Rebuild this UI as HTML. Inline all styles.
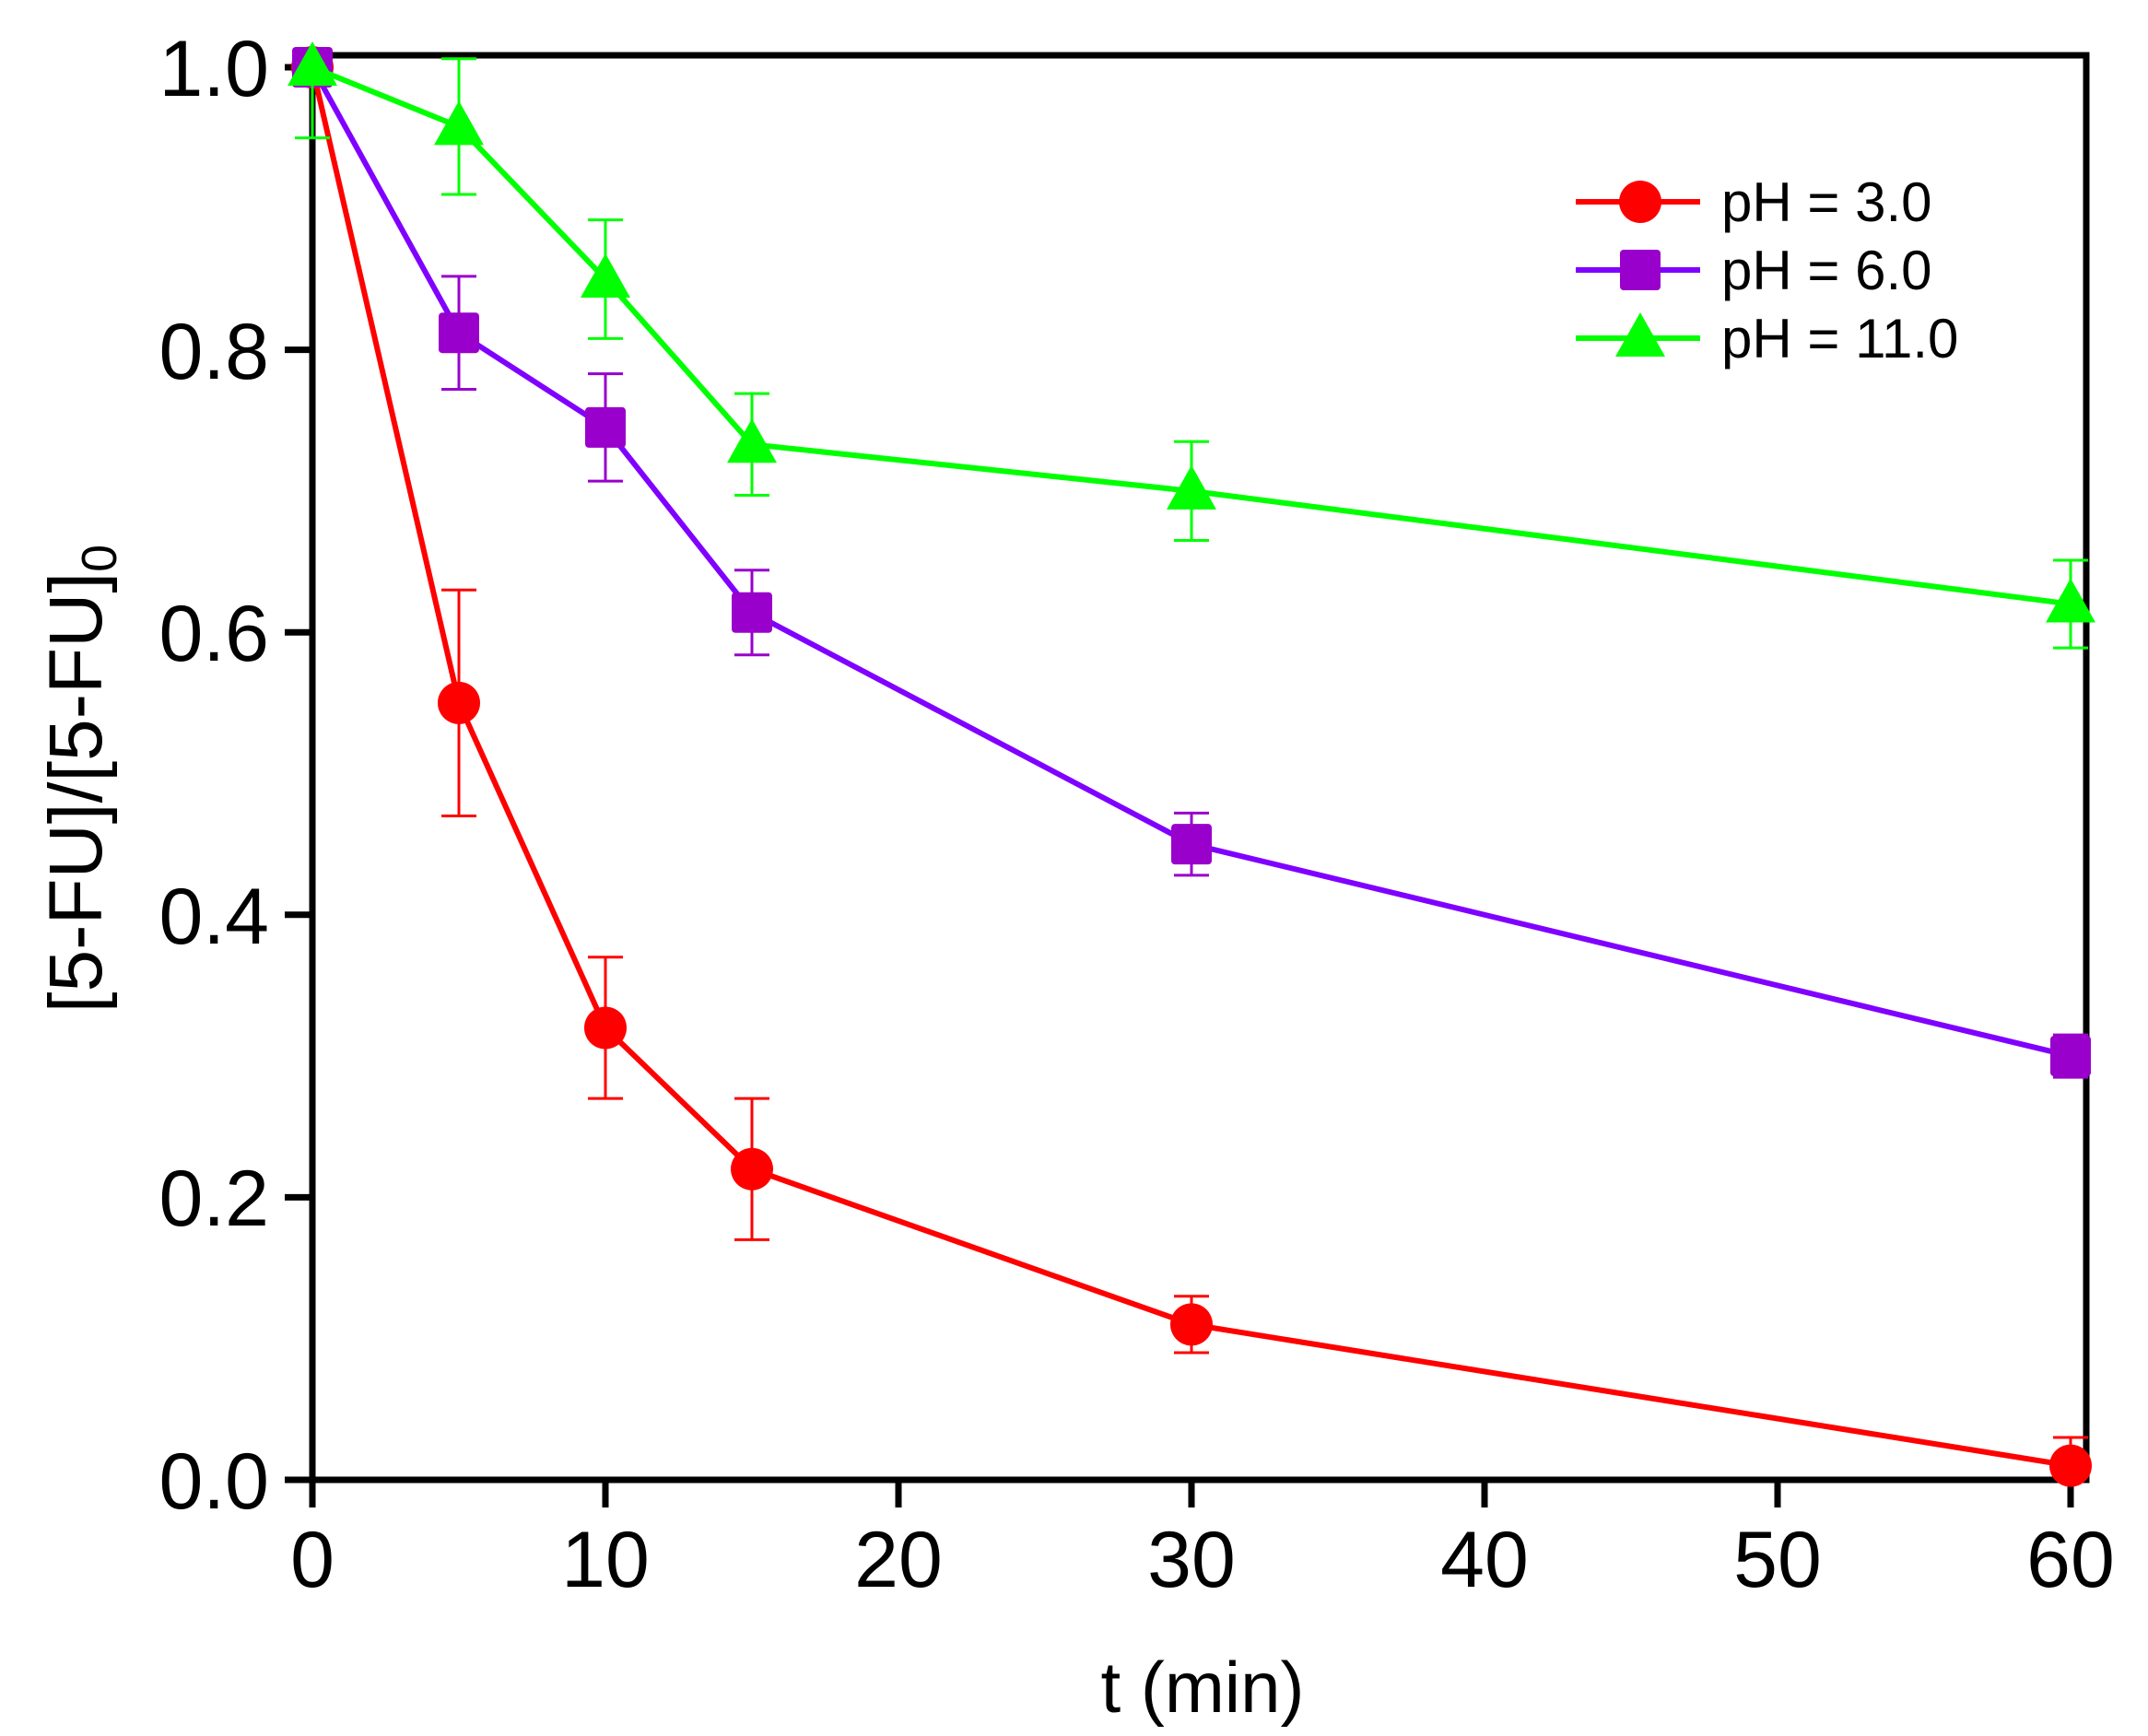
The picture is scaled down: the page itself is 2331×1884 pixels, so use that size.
<!DOCTYPE html>
<html><head><meta charset="utf-8"><style>html,body{margin:0;padding:0;background:#fff}svg{display:block}text{font-family:"Liberation Sans",Arial,sans-serif;fill:#000}</style></head>
<body>
<svg id="s" width="2331" height="1884" viewBox="0 0 2331 1884" xmlns="http://www.w3.org/2000/svg">
<rect x="339" y="60" width="1925" height="1546" fill="none" stroke="#000" stroke-width="7"/>
<g id="ticks" stroke="#000" stroke-width="7"></g>
<g font-size="86" text-anchor="middle">
<text x="339" y="1722">0</text><text x="657" y="1722">10</text><text x="975" y="1722">20</text><text x="1293" y="1722">30</text><text x="1611" y="1722">40</text><text x="1929" y="1722">50</text><text x="2247" y="1722">60</text>
</g>
<g font-size="86" text-anchor="end">
<text x="292" y="1637">0.0</text><text x="292" y="1330">0.2</text><text x="292" y="1024">0.4</text><text x="292" y="717">0.6</text><text x="292" y="411">0.8</text><text x="292" y="104">1.0</text>
</g>
<text x="1305" y="1858" font-size="78" text-anchor="middle">t (min)</text>
<text transform="translate(110,845) rotate(-90)" font-size="82" text-anchor="middle">[5-FU]/[5-FU]<tspan font-size="54" dy="16">0</tspan></text>
<g id="data"></g>
<g font-size="60">
<text x="1868" y="240">pH = 3.0</text>
<text x="1868" y="314">pH = 6.0</text>
<text x="1868" y="388">pH = 11.0</text>
</g>
</svg>
<script>
var NS="http://www.w3.org/2000/svg";
function X(t){return 339+t*31.8}function Y(v){return 1606-v*1533}
function el(p,n,a){var e=document.createElementNS(NS,n);for(var k in a)e.setAttribute(k,a[k]);p.appendChild(e);return e}
var tk=document.getElementById("ticks");
for(var t=0;t<=60;t+=10)el(tk,"line",{x1:X(t),x2:X(t),y1:1606,y2:1636});
for(var i=0;i<=5;i++){var y=Y(i*0.2);el(tk,"line",{x1:309,x2:339,y1:y,y2:y});}
var ts=[0,5,10,15,30,60];
var S=[
 {lc:"#ff0000",mc:"#ff0000",m:"c",v:[1,0.55,0.32,0.22,0.11,0.01],e:[0,0.08,0.05,0.05,0.02,0.02]},
 {lc:"#8000ff",mc:"#9900cc",m:"s",v:[1,0.812,0.745,0.614,0.45,0.30],e:[0,0.04,0.038,0.03,0.022,0.015]},
 {lc:"#00ff00",mc:"#00ff00",m:"t",v:[1,0.958,0.85,0.733,0.70,0.62],e:[0.05,0.048,0.042,0.036,0.035,0.031]}
];
var d=document.getElementById("data");
function mk(g,s,x,y){
 if(s.m=="c")el(g,"circle",{cx:x,cy:y,r:23,fill:s.mc});
 else if(s.m=="s")el(g,"rect",{x:x-22,y:y-22,width:44,height:44,rx:4,fill:s.mc});
 else el(g,"polygon",{points:(x)+","+(y-28)+" "+(x-27)+","+(y+20)+" "+(x+27)+","+(y+20),fill:s.mc});
}
S.forEach(function(s){
 var pts=ts.map(function(t,i){return X(t)+","+Y(s.v[i])}).join(" ");
 el(d,"polyline",{points:pts,fill:"none",stroke:s.lc,"stroke-width":6});
 ts.forEach(function(t,i){var x=X(t);if(s.e[i]>0){var y1r=Y(s.v[i]+s.e[i]),y1=Math.max(60,y1r),y2=Math.min(1606,Y(s.v[i]-s.e[i]));
  el(d,"line",{x1:x,x2:x,y1:y1,y2:y2,stroke:s.mc,"stroke-width":3});
  if(y1r>=60)el(d,"line",{x1:x-19,x2:x+19,y1:y1,y2:y1,stroke:s.mc,"stroke-width":3});
  if(y2<1606)el(d,"line",{x1:x-19,x2:x+19,y1:y2,y2:y2,stroke:s.mc,"stroke-width":3});}});
 ts.forEach(function(t,i){mk(d,s,X(t),Y(s.v[i]))});
});
var ly=[219,293,367];
S.forEach(function(s,i){el(d,"line",{x1:1710,x2:1845,y1:ly[i],y2:ly[i],stroke:s.lc,"stroke-width":6});mk(d,s,1780,ly[i]);});
</script>
</body></html>
